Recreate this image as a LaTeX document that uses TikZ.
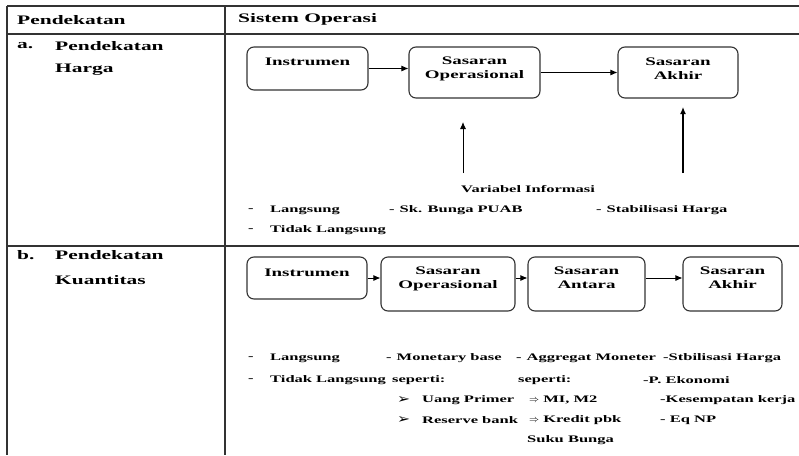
\documentclass[tikz,border=0pt]{standalone}
\usepackage{fontspec}
\setmainfont{Liberation Serif}[FakeStretch=1.65]
\newfontfamily\symfont{DejaVu Sans}[FakeStretch=1.2]
\usetikzlibrary{arrows.meta}
\tikzset{
    txt/.style={anchor=west, inner sep=0pt, font=\bfseries\fontsize{10}{12}\selectfont},
    head/.style={anchor=west, inner sep=0pt, font=\bfseries\fontsize{13}{15}\selectfont},
    box/.style={draw=black!80, line width=1.1pt, rounded corners=7pt, align=center,
        inner sep=2pt, font=\bfseries\fontsize{11.5}{14}\selectfont},
    grid/.style={draw=black!80, line width=1.6pt},
    arr/.style={-{Latex[length=7pt,width=6pt]}, line width=0.9pt},
}
\newcommand{\bul}{{\symfont\fontsize{13}{13}\selectfont\char"27A2}}
\begin{document}
\begin{tikzpicture}[x=1pt, y=-1pt]
        \useasboundingbox (0,0) rectangle (799,455);
        \draw[grid] (7,6) -- (799,6);
        \draw[grid] (7,34) -- (799,34);
        \draw[grid] (7,246) -- (799,246);
        \draw[grid] (7,6) -- (7,455);
        \draw[grid] (225,6) -- (225,455);
        \node[head] (hpend) at (17,20) {Pendekatan};
        \node[head] (hsis) at (238,19) {Sistem Operasi};
        \node[head] (la) at (17,46) {a.};
        \node[head] (lapend) at (55,46) {Pendekatan};
        \node[head] (laharga) at (55,70) {Harga};
        \node[head] (lb) at (17,255) {b.};
        \node[head] (lbpend) at (55,255) {Pendekatan};
        \node[head] (lbkuan) at (55,280) {Kuantitas};
        % pendekatan harga
        \node[box, minimum width=121pt, minimum height=43pt, text depth=13pt] (insA) at (307.5,68.5) {Instrumen};
        \node[box, minimum width=131pt, minimum height=51pt, text depth=9pt] (opA) at (474.5,72.5) {Sasaran\\Operasional};
        \node[box, minimum width=120pt, minimum height=51pt, text depth=7pt] (akA) at (678,72.5) {Sasaran\\Akhir};
        \draw[arr] (insA.east) -- (insA.east -| opA.west);
        \draw[arr] (opA.east) -- (akA.west);
        \coordinate (upAbot) at (463,173);
        \coordinate (upAtop) at (463,122);
        \coordinate (upBbot) at (683,173);
        \coordinate (upBtop) at (683,107);
        \draw[arr] (upAbot) -- (upAtop);
        \draw[arr, line width=1.2pt] (upBbot) -- (upBtop);
        \node[txt] (varinfo) at (461,189) {Variabel Informasi};
        \node[txt] (dA1) at (248,210) {-};
        \node[txt] (langA) at (270,210) {Langsung};
        \node[txt] (puab) at (389,210) {-\enspace Sk. Bunga PUAB};
        \node[txt] (stabA) at (596,210) {-\enspace Stabilisasi Harga};
        \node[txt] (dA2) at (248,230) {-};
        \node[txt] (tlangA) at (270,230) {Tidak Langsung};
        % pendekatan kuantitas
        \node[box, minimum width=120pt, minimum height=42pt, text depth=10pt] (insB) at (307,278) {Instrumen};
        \node[box, minimum width=134pt, minimum height=54pt, text depth=13pt] (opB) at (448,284) {Sasaran\\Operasional};
        \node[box, minimum width=117pt, minimum height=54pt, text depth=13pt] (anB) at (586.5,284) {Sasaran\\Antara};
        \node[box, minimum width=99pt, minimum height=54pt, text depth=13pt] (akB) at (732.5,284) {Sasaran\\Akhir};
        \draw[arr] (insB.east) -- (insB.east -| opB.west);
        \draw[arr] (insB.east -| opB.east) -- (insB.east -| anB.west);
        \draw[arr] (insB.east -| anB.east) -- (insB.east -| akB.west);
        \node[txt] (dB1) at (248,358) {-};
        \node[txt] (langB) at (270,358) {Langsung};
        \node[txt] (monbase) at (386,358) {-\enspace Monetary base};
        \node[txt] (aggmon) at (516,358) {-\enspace Aggregat Moneter};
        \node[txt] (stabB) at (663,358) {-Stbilisasi Harga};
        \node[txt] (dB2) at (248,380) {-};
        \node[txt] (tlangB) at (270,380) {Tidak Langsung};
        \node[txt] (sepA) at (392,380) {seperti:};
        \node[txt] (sepB) at (518,380) {seperti:};
        \node[txt] (ekon) at (643,380) {-P. Ekonomi};
        \node[txt] (bul1) at (397,400) {\bul};
        \node[txt] (uang) at (422,400) {Uang Primer};
        \node[txt] (mone) at (529,400) {$\Rightarrow$ MI, M2};
        \node[txt] (kerja) at (660,400) {-Kesempatan kerja};
        \node[txt] (bul2) at (397,420) {\bul};
        \node[txt] (reserve) at (422,420) {Reserve bank};
        \node[txt] (kredit) at (529,420) {$\Rightarrow$ Kredit pbk};
        \node[txt] (eqnp) at (660,420) {- Eq NP};
        \node[txt] (suku) at (527,440) {Suku Bunga};
    \end{tikzpicture}
\end{document}
